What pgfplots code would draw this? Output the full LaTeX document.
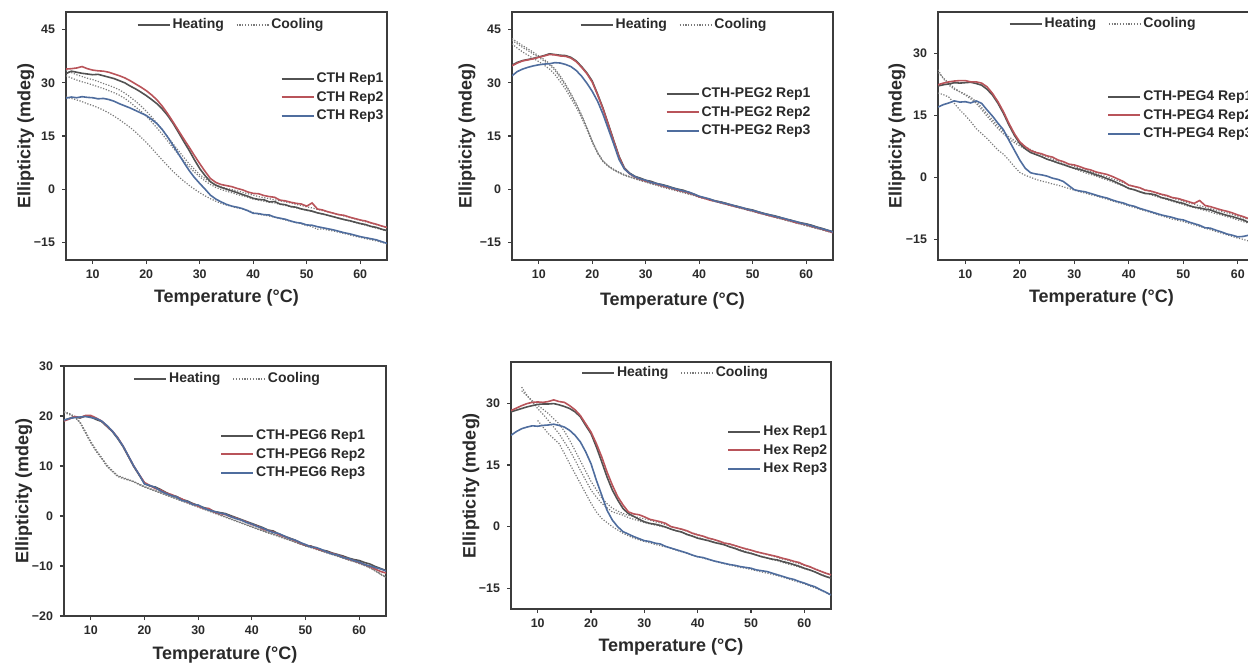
\documentclass[border=0pt]{standalone}
\usepackage{fontspec}
\setmainfont{Liberation Sans}
\usepackage{pgfplots}
\usepackage{pgfplotstable}
\pgfplotsset{compat=1.18}

\definecolor{rgray}{HTML}{525252}
\definecolor{rred}{HTML}{B9545A}
\definecolor{rblue}{HTML}{4F6D9E}
\definecolor{cdot}{HTML}{7A7A7A}
\definecolor{axgray}{HTML}{3C3C3C}
\definecolor{txt}{HTML}{2A2A2A}

% T, heating rep1-3 (h1-h3), cooling rep1-3 (c1-c3)
\pgfplotstableread{
T h1 h2 h3 c1 c2 c3
5 32.6 33.9 25.7 32.0 33.5 26.0
6 33.3 34.0 26.0 31.4 32.9 25.6
7 33.0 34.2 25.8 30.8 32.3 25.2
8 32.7 34.6 26.1 30.3 31.8 24.7
9 32.5 34.0 25.9 29.9 31.3 24.1
10 32.3 33.6 25.8 29.4 30.9 23.6
11 32.4 33.4 25.5 28.9 30.4 23.0
12 32.0 33.3 25.6 28.4 29.8 22.3
13 31.6 33.0 25.3 27.8 29.3 21.5
14 31.2 32.5 24.8 27.2 28.7 20.6
15 30.6 32.0 24.1 26.5 28.0 19.6
16 30.0 31.4 23.5 25.6 27.1 18.5
17 29.1 30.6 22.9 24.5 26.0 17.4
18 28.3 29.7 22.2 23.2 24.8 16.1
19 27.4 28.8 21.5 22.0 23.5 14.7
20 26.4 27.8 20.8 20.6 22.0 13.2
21 25.3 26.6 19.7 19.0 20.4 11.6
22 24.1 25.2 18.5 17.3 18.6 9.9
23 22.6 23.4 16.8 15.5 16.8 8.2
24 20.8 21.3 14.7 13.6 14.8 6.6
25 18.6 19.0 12.4 11.7 12.8 5.0
26 16.1 16.6 10.0 9.8 10.9 3.6
27 13.5 14.2 7.6 8.0 9.0 2.3
28 11.0 11.9 5.3 6.3 7.2 1.1
29 8.3 9.5 3.3 4.8 5.6 0.0
30 5.8 7.2 1.6 3.5 4.1 -1.0
31 3.8 5.0 0.0 2.3 3.0 -1.9
32 2.1 3.0 -1.7 1.3 2.0 -2.7
33 1.1 1.9 -2.8 0.5 1.2 -3.4
34 0.5 1.3 -3.6 -0.1 0.6 -4.0
35 0.0 1.0 -4.3 -0.6 0.2 -4.5
36 -0.5 0.7 -4.8 -1.0 -0.1 -4.9
37 -1.0 0.2 -5.1 -1.5 -0.5 -5.3
38 -1.5 -0.2 -5.5 -1.9 -0.9 -5.6
39 -2.0 -0.8 -6.1 -2.3 -1.3 -6.0
40 -2.6 -1.2 -6.8 -2.8 -1.7 -6.6
41 -2.9 -1.3 -6.9 -3.1 -2.1 -7.1
42 -3.0 -1.8 -7.2 -3.4 -2.4 -7.3
43 -3.6 -2.1 -7.3 -3.7 -2.7 -7.6
44 -3.5 -2.3 -7.9 -3.9 -3.0 -7.9
45 -4.2 -3.1 -8.2 -4.3 -3.3 -8.3
46 -4.4 -3.3 -8.5 -4.6 -3.6 -8.7
47 -4.9 -3.7 -9.0 -5.0 -3.9 -9.1
48 -5.1 -4.0 -9.4 -5.3 -4.3 -9.4
49 -5.6 -4.2 -9.6 -5.6 -4.6 -9.8
50 -5.9 -4.8 -10.1 -6.0 -5.0 -10.3
51 -6.2 -3.9 -10.2 -6.3 -5.3 -10.6
52 -6.7 -5.6 -10.6 -6.7 -5.7 -11.3
53 -7.0 -5.9 -10.9 -7.1 -6.1 -11.2
54 -7.4 -6.4 -11.2 -7.4 -6.4 -11.6
55 -7.8 -6.8 -11.5 -7.8 -6.8 -11.8
56 -8.2 -7.2 -11.9 -8.2 -7.2 -12.2
57 -8.6 -7.4 -12.3 -8.6 -7.6 -12.5
58 -8.9 -7.9 -12.6 -9.0 -8.0 -12.9
59 -9.3 -8.3 -13.0 -9.4 -8.4 -13.3
60 -9.7 -8.7 -13.4 -9.8 -8.8 -13.6
61 -10.0 -9.0 -13.7 -10.2 -9.2 -14.0
62 -10.5 -9.5 -14.0 -10.6 -9.6 -14.3
63 -10.8 -9.9 -14.3 -11.0 -10.0 -14.6
64 -11.3 -10.4 -14.8 -11.4 -10.4 -15.0
65 -11.7 -10.8 -15.3 -11.8 -10.8 -15.4
}\cth

\pgfplotstableread{
T h1 h2 h3 c1 c2 c3
5 35.0 34.8 32.0 42.5 41.0 42.0
6 35.8 35.6 33.2 41.5 39.8 41.0
7 36.3 36.2 33.9 40.5 38.7 40.0
8 36.6 36.5 34.4 39.6 37.8 39.1
9 36.9 36.8 34.8 38.6 36.9 38.1
10 37.3 37.2 35.1 37.6 36.0 37.2
11 37.7 37.6 35.3 36.6 35.0 36.2
12 38.2 38.0 35.4 35.5 33.9 35.1
13 38.0 37.9 35.7 34.0 32.4 33.6
14 37.8 37.6 35.6 32.0 30.4 31.5
15 37.7 37.5 35.2 29.7 28.2 29.2
16 37.2 37.0 34.6 27.0 25.7 26.6
17 36.2 36.0 33.5 24.2 23.1 23.8
18 34.6 34.4 31.9 21.0 20.2 20.7
19 32.8 32.6 29.9 17.4 16.8 17.2
20 30.5 30.2 27.6 13.5 13.2 13.6
21 26.8 26.6 24.8 10.2 10.1 10.4
22 22.9 22.7 21.2 7.8 7.9 8.0
23 18.4 18.2 17.0 6.4 6.5 6.6
24 13.8 13.6 12.8 5.4 5.5 5.6
25 9.3 9.1 8.4 4.6 4.7 4.8
26 6.0 5.8 5.7 3.9 4.0 4.1
27 4.5 4.3 4.4 3.4 3.5 3.5
28 3.6 3.4 3.5 2.9 3.0 3.0
29 3.1 2.8 2.9 2.4 2.5 2.6
30 2.5 2.3 2.5 2.0 2.1 2.1
31 2.2 1.9 1.9 1.5 1.6 1.7
32 1.6 1.5 1.6 1.1 1.2 1.3
33 1.3 1.0 1.2 0.6 0.8 0.8
34 0.9 0.6 0.8 0.2 0.4 0.4
35 0.4 0.2 0.3 -0.2 0.0 0.0
36 0.0 -0.3 -0.1 -0.6 -0.4 -0.4
37 -0.3 -0.6 -0.5 -1.0 -0.8 -0.8
38 -0.9 -1.0 -0.8 -1.4 -1.2 -1.3
39 -1.4 -1.5 -1.4 -1.8 -1.6 -1.7
40 -2.1 -2.2 -2.0 -2.3 -2.1 -2.2
41 -2.5 -2.6 -2.4 -2.7 -2.5 -2.6
42 -2.9 -3.1 -2.8 -3.1 -3.0 -3.0
43 -3.3 -3.4 -3.4 -3.5 -3.4 -3.5
44 -3.6 -3.8 -3.7 -3.9 -3.8 -3.9
45 -4.0 -4.2 -4.1 -4.3 -4.2 -4.3
46 -4.5 -4.6 -4.4 -4.7 -4.6 -4.7
47 -4.8 -5.0 -4.9 -5.1 -5.0 -5.1
48 -5.3 -5.3 -5.2 -5.5 -5.4 -5.5
49 -5.6 -5.8 -5.7 -5.9 -5.8 -5.9
50 -5.9 -6.1 -6.0 -6.3 -6.2 -6.3
51 -6.4 -6.6 -6.4 -6.7 -6.6 -6.7
52 -6.8 -7.0 -6.9 -7.1 -7.0 -7.1
53 -7.2 -7.4 -7.2 -7.5 -7.4 -7.5
54 -7.5 -7.8 -7.6 -7.9 -7.8 -7.9
55 -7.9 -8.1 -8.0 -8.3 -8.2 -8.3
56 -8.4 -8.5 -8.3 -8.7 -8.6 -8.7
57 -8.7 -8.9 -8.8 -9.1 -9.0 -9.1
58 -9.2 -9.4 -9.1 -9.5 -9.4 -9.5
59 -9.5 -9.7 -9.6 -9.9 -9.8 -9.9
60 -9.8 -10.0 -9.9 -10.3 -10.2 -10.3
61 -10.2 -10.5 -10.3 -10.7 -10.6 -10.7
62 -10.7 -10.9 -10.8 -11.1 -11.0 -11.1
63 -11.1 -11.3 -11.2 -11.5 -11.4 -11.5
64 -11.6 -11.8 -11.6 -11.9 -11.9 -11.9
65 -12.0 -12.3 -12.1 -12.3 -12.4 -12.3
}\pegtwo

\pgfplotstableread{
T h1 h2 h3 c1 c2 c3
5 22.1 22.4 17.0 25.4 26.0 20.4
6 22.4 22.8 17.6 24.0 23.8 20.0
7 22.6 23.1 18.0 22.8 22.3 19.4
8 22.9 23.3 18.5 21.6 21.3 17.9
9 22.8 23.4 18.2 20.7 20.7 16.3
10 22.9 23.4 18.3 19.9 20.1 15.0
11 23.0 23.1 18.0 19.0 19.4 13.5
12 22.7 23.1 18.5 17.9 18.3 11.8
13 22.3 22.8 17.9 16.4 16.9 10.6
14 21.3 21.9 16.3 14.8 15.4 9.4
15 19.9 20.3 14.8 13.3 13.9 8.0
16 17.9 18.3 13.1 11.8 12.4 6.6
17 15.5 15.9 11.5 10.5 11.1 5.6
18 12.7 13.1 9.0 9.3 9.8 4.2
19 10.2 10.6 6.6 8.4 8.9 2.6
20 8.2 8.6 4.2 7.6 8.1 1.2
21 6.9 7.4 2.2 6.9 7.4 0.5
22 6.0 6.5 1.1 6.2 6.7 0.0
23 5.5 6.0 0.8 5.6 6.1 -0.5
24 5.0 5.7 0.6 5.0 5.5 -0.9
25 4.4 5.2 0.3 4.4 5.0 -1.2
26 4.0 4.9 -0.2 3.9 4.5 -1.6
27 3.5 4.2 -0.5 3.5 4.0 -1.9
28 3.1 3.8 -1.0 3.0 3.6 -2.3
29 2.6 3.2 -2.0 2.6 3.1 -2.7
30 2.2 3.0 -3.0 2.1 2.7 -3.1
31 1.9 2.6 -3.3 1.6 2.2 -3.5
32 1.5 2.1 -3.5 1.1 1.8 -3.8
33 1.1 1.8 -3.9 0.7 1.4 -4.2
34 0.6 1.3 -4.3 0.3 1.0 -4.5
35 0.2 1.0 -4.7 -0.2 0.5 -4.9
36 -0.3 0.7 -5.0 -0.6 0.1 -5.3
37 -0.8 0.2 -5.5 -1.1 -0.4 -5.7
38 -1.4 -0.4 -5.9 -1.6 -0.8 -6.1
39 -2.0 -1.0 -6.2 -2.1 -1.3 -6.5
40 -2.7 -1.9 -6.7 -2.6 -1.8 -6.9
41 -3.0 -2.2 -7.0 -3.0 -2.2 -7.3
42 -3.5 -2.5 -7.5 -3.4 -2.6 -7.7
43 -3.9 -3.1 -7.9 -3.8 -3.0 -8.1
44 -4.0 -3.3 -8.3 -4.2 -3.4 -8.5
45 -4.3 -3.7 -8.7 -4.6 -3.8 -8.9
46 -4.9 -4.1 -9.1 -5.0 -4.2 -9.3
47 -5.2 -4.4 -9.4 -5.4 -4.6 -9.7
48 -5.6 -4.9 -9.7 -5.8 -5.0 -10.1
49 -6.0 -5.1 -10.1 -6.2 -5.4 -10.4
50 -6.3 -5.5 -10.3 -6.6 -5.8 -10.7
51 -6.8 -5.9 -10.8 -7.0 -6.2 -11.1
52 -7.2 -6.3 -11.2 -7.3 -6.5 -11.5
53 -7.4 -5.6 -11.6 -7.7 -6.9 -11.9
54 -7.7 -6.8 -12.2 -8.0 -7.2 -12.3
55 -7.9 -7.1 -12.3 -8.4 -7.6 -12.7
56 -8.4 -7.5 -12.8 -8.8 -7.9 -13.1
57 -8.8 -7.9 -13.2 -9.1 -8.3 -13.5
58 -9.2 -8.2 -13.7 -9.5 -8.6 -13.9
59 -9.5 -8.6 -14.0 -9.9 -9.0 -14.3
60 -9.9 -9.1 -14.4 -10.3 -9.4 -14.7
61 -10.3 -9.5 -14.3 -10.7 -9.8 -15.0
62 -10.9 -10.0 -14.0 -11.1 -10.2 -15.4
63 -11.4 -10.7 -14.9 -11.5 -10.6 -15.8
64 -12.0 -11.1 -15.4 -11.9 -11.0 -16.2
65 -12.7 -11.5 -16.0 -12.3 -11.4 -16.5
}\pegfour

\pgfplotstableread{
T h1 h2 h3 c1 c2 c3
5 19.1 19.0 19.2 20.9 20.7 20.8
6 19.5 19.4 19.5 20.5 20.3 20.4
7 19.8 19.9 19.7 19.9 19.7 19.8
8 19.6 19.7 19.8 18.6 18.8 18.7
9 20.0 20.1 19.9 16.6 16.9 16.7
10 19.8 20.1 19.7 14.6 14.9 14.7
11 19.3 19.6 19.5 12.9 13.2 13.0
12 18.9 19.0 19.0 11.5 11.7 11.6
13 17.9 18.0 18.1 9.9 10.2 10.0
14 16.9 17.0 17.0 8.9 9.1 9.0
15 15.5 15.7 15.6 7.9 8.1 8.0
16 13.9 14.0 14.0 7.5 7.7 7.6
17 11.9 12.0 12.0 7.2 7.3 7.2
18 9.9 10.0 10.0 6.8 6.9 6.9
19 8.2 8.3 8.3 6.3 6.4 6.3
20 6.5 6.7 6.4 5.8 5.9 5.8
21 6.0 6.1 6.1 5.4 5.5 5.4
22 5.8 5.5 5.7 5.0 5.1 5.0
23 5.3 5.2 5.0 4.6 4.7 4.6
24 4.7 4.6 4.5 4.2 4.3 4.2
25 4.2 4.3 4.1 3.8 3.9 3.8
26 3.9 3.8 3.8 3.4 3.5 3.4
27 3.3 3.4 3.1 3.0 3.1 3.0
28 3.0 2.8 2.9 2.6 2.7 2.6
29 2.5 2.4 2.3 2.2 2.3 2.2
30 2.1 2.0 2.2 1.8 1.9 1.8
31 1.7 1.5 1.6 1.4 1.5 1.4
32 1.4 1.5 1.2 1.0 1.1 1.0
33 0.9 0.8 0.9 0.6 0.7 0.6
34 0.7 0.5 0.6 0.2 0.3 0.2
35 0.5 0.3 0.4 -0.2 -0.1 -0.2
36 0.1 -0.1 -0.1 -0.6 -0.5 -0.6
37 -0.3 -0.4 -0.5 -1.0 -0.9 -1.0
38 -0.7 -0.8 -0.8 -1.4 -1.3 -1.4
39 -1.1 -1.2 -1.3 -1.8 -1.7 -1.8
40 -1.5 -1.7 -1.6 -2.2 -2.1 -2.2
41 -1.9 -2.0 -2.1 -2.6 -2.5 -2.6
42 -2.3 -2.6 -2.4 -2.9 -2.9 -3.0
43 -2.8 -2.9 -2.9 -3.3 -3.3 -3.4
44 -3.0 -3.2 -3.3 -3.7 -3.6 -3.7
45 -3.6 -3.7 -3.5 -4.0 -4.0 -4.1
46 -4.0 -4.1 -4.0 -4.4 -4.4 -4.5
47 -4.4 -4.5 -4.5 -4.8 -4.8 -4.8
48 -4.8 -4.9 -4.8 -5.2 -5.2 -5.2
49 -5.3 -5.4 -5.3 -5.6 -5.6 -5.6
50 -5.9 -5.8 -5.7 -5.9 -5.9 -6.0
51 -6.0 -6.1 -6.2 -6.3 -6.3 -6.3
52 -6.4 -6.5 -6.3 -6.6 -6.6 -6.7
53 -6.8 -6.8 -6.7 -7.0 -7.0 -7.0
54 -7.0 -7.2 -7.2 -7.3 -7.3 -7.4
55 -7.4 -7.5 -7.6 -7.7 -7.7 -7.7
56 -7.7 -7.8 -7.8 -8.0 -8.0 -8.1
57 -8.0 -8.2 -8.3 -8.4 -8.4 -8.4
58 -8.4 -8.6 -8.5 -8.7 -8.8 -8.8
59 -8.7 -8.9 -8.9 -9.1 -9.1 -9.1
60 -8.9 -9.3 -9.2 -9.4 -9.5 -9.5
61 -9.3 -9.7 -9.7 -9.8 -9.9 -9.9
62 -9.6 -10.1 -10.0 -10.3 -10.4 -10.3
63 -10.1 -10.6 -10.3 -10.9 -11.0 -10.9
64 -10.5 -11.1 -10.6 -11.6 -11.7 -11.6
65 -10.9 -11.4 -11.0 -12.2 -12.3 -12.2
}\pegsix

\pgfplotstableread{
T h1 h2 h3 c1 c2 c3
5 27.9 28.2 22.2 nan nan nan
6 28.3 28.8 23.1 nan nan nan
7 28.7 29.4 23.8 33.9 33.0 nan
8 29.1 29.9 24.2 31.9 31.8 nan
9 29.4 30.2 24.5 30.3 30.6 nan
10 29.7 30.3 24.4 28.7 29.5 25.8
11 29.8 30.2 24.6 27.3 28.5 24.2
12 29.8 30.4 24.7 25.8 27.5 22.6
13 29.9 30.8 24.9 24.2 26.2 21.4
14 29.6 30.4 24.6 22.6 25.0 20.2
15 29.2 30.2 24.2 20.6 23.2 17.8
16 28.7 29.4 23.4 18.6 21.0 15.3
17 27.9 28.4 22.2 16.2 18.5 12.9
18 26.7 27.0 20.6 13.7 16.0 10.5
19 24.6 25.0 18.2 11.3 13.5 8.1
20 22.6 23.0 15.3 8.9 11.0 5.7
21 19.4 20.2 11.3 7.2 9.0 3.6
22 15.8 17.0 7.7 5.7 7.0 2.0
23 12.1 13.3 4.0 4.6 5.6 1.0
24 8.9 10.1 1.6 3.6 4.5 0.0
25 6.5 7.3 0.0 3.2 3.8 -0.8
26 4.4 5.3 -1.2 2.8 3.2 -1.6
27 3.2 3.6 -1.8 2.2 2.8 -2.2
28 2.5 3.1 -2.4 1.8 2.5 -2.8
29 1.8 2.9 -2.9 1.4 2.2 -3.2
30 1.2 2.4 -3.4 1.0 1.9 -3.6
31 0.8 1.8 -3.6 0.7 1.6 -3.9
32 0.6 1.5 -4.0 0.4 1.2 -4.3
33 0.3 1.2 -4.2 0.1 0.9 -4.6
34 -0.1 0.8 -4.8 -0.2 0.5 -4.9
35 -0.6 0.0 -5.2 -0.6 0.1 -5.3
36 -1.0 -0.3 -5.6 -1.0 -0.3 -5.7
37 -1.3 -0.6 -6.0 -1.4 -0.7 -6.1
38 -1.9 -1.0 -6.4 -1.8 -1.1 -6.5
39 -2.3 -1.6 -6.9 -2.2 -1.5 -6.9
40 -2.8 -2.0 -7.3 -2.6 -1.9 -7.3
41 -3.1 -2.3 -7.5 -3.0 -2.3 -7.6
42 -3.4 -2.8 -7.9 -3.3 -2.7 -8.0
43 -3.8 -3.1 -8.3 -3.7 -3.1 -8.3
44 -4.1 -3.5 -8.6 -4.0 -3.5 -8.7
45 -4.4 -4.0 -8.9 -4.4 -3.9 -9.0
46 -4.9 -4.2 -9.2 -4.8 -4.3 -9.3
47 -5.3 -4.6 -9.4 -5.2 -4.6 -9.6
48 -5.8 -5.0 -9.7 -5.6 -5.0 -9.9
49 -6.2 -5.4 -9.9 -6.0 -5.3 -10.1
50 -6.5 -5.7 -10.1 -6.4 -5.7 -10.4
51 -6.9 -6.1 -10.5 -6.8 -6.1 -10.7
52 -7.3 -6.4 -10.7 -7.2 -6.4 -11.0
53 -7.6 -6.7 -10.9 -7.6 -6.8 -11.3
54 -7.9 -7.0 -11.3 -8.0 -7.1 -11.6
55 -8.1 -7.3 -11.7 -8.3 -7.5 -11.9
56 -8.5 -7.7 -12.1 -8.7 -7.9 -12.3
57 -8.8 -8.0 -12.5 -9.1 -8.2 -12.7
58 -9.2 -8.4 -12.8 -9.4 -8.6 -13.1
59 -9.6 -8.7 -13.3 -9.8 -9.0 -13.5
60 -10.1 -9.3 -13.7 -10.2 -9.4 -13.9
61 -10.5 -9.7 -14.2 -10.6 -9.8 -14.4
62 -11.0 -10.3 -14.6 -11.0 -10.2 -14.9
63 -11.6 -10.8 -15.3 -11.5 -10.7 -15.4
64 -12.1 -11.3 -15.9 -12.0 -11.2 -16.0
65 -12.5 -11.7 -16.6 -12.5 -11.7 -16.6
}\hex

\newcommand{\labfont}{\bfseries\fontsize{9}{10}\selectfont}

\pgfplotsset{
  cdpanel/.style={
    scale only axis,
    xmin=5, xmax=65,
    xtick={10,20,...,60},
    axis line style={axgray, line width=1pt},
    tick style={axgray, line width=0.6pt},
    tick align=outside,
    major tick length=2pt,
    xtick pos=left, ytick pos=left,
    /pgf/number format/assume math mode=true,
    tick label style={font=\bfseries\fontsize{6.2}{7}\selectfont, text=txt},
    xticklabel style={yshift=0.5pt},
    xlabel={Temperature (°C)},
    ylabel={Ellipticity (mdeg)},
    every axis x label/.style={at={(axis description cs:0.5,-0.152)}, anchor=center,
      font=\labfont, text=txt},
    every axis y label/.style={at={(axis description cs:-0.125,0.5)}, anchor=center,
      rotate=90, font=\labfont, text=txt},
    legend style={draw=none, fill=none, anchor=north west, inner sep=0pt,
      font=\bfseries\fontsize{7}{8}\selectfont, text=txt, row sep=0.6pt,
      nodes={inner sep=1pt, text height=5.2pt, text depth=1.4pt}},
    legend cell align=left,
    legend image code/.code={\draw[##1, line width=1pt] (0pt,0pt) -- (16pt,0pt);},
  },
  hclegend/.style={
    scale only axis, hide axis,
    xmin=0, xmax=1, ymin=0, ymax=1,
    legend columns=2,
    legend style={draw=none, fill=none, anchor=center, inner sep=0pt,
      font=\bfseries\fontsize{7}{8}\selectfont, text=txt,
      nodes={inner sep=1pt},
      /tikz/every even column/.append style={column sep=5pt}},
    legend image code/.code={\draw[##1] (0pt,0pt) -- (16pt,0pt);},
  },
  heat/.style={line width=0.8pt},
  cool/.style={cdot, line width=0.6pt, dash pattern=on 0.6pt off 0.8pt},
}

\newcommand{\sixcurves}[4]{%
  \addplot[cool, forget plot] table[x=T, y=c1] {#1};
  \addplot[cool, forget plot] table[x=T, y=c2] {#1};
  \addplot[cool, forget plot] table[x=T, y=c3] {#1};
  \addplot[heat, rgray] table[x=T, y=h1] {#1};
  \addlegendentry{#2}
  \addplot[heat, rred] table[x=T, y=h2] {#1};
  \addlegendentry{#3}
  \addplot[heat, rblue] table[x=T, y=h3] {#1};
  \addlegendentry{#4}
}

% Heating / Cooling key: x, y, width, height, key position
\newcommand{\hcleg}[6]{%
  \begin{axis}[hclegend, at={(#1,#2)}, anchor=south west, width=#3, height=#4,
    legend style={at={(#5,#6)}}]
    \addlegendimage{rgray, line width=1pt}
    \addlegendentry{Heating}
    \addlegendimage{cool, line width=0.7pt}
    \addlegendentry{Cooling}
  \end{axis}
}

\begin{document}
\begin{tikzpicture}

% CTH
\begin{axis}[cdpanel, at={(33pt,203pt)}, anchor=south west, width=160.5pt, height=124pt,
  ymin=-20, ymax=50, ytick={-15,0,15,30,45}, yticklabels={−15,0,15,30,45},
  legend style={at={(0.667,0.766)}}]
  \sixcurves{\cth}{CTH Rep1}{CTH Rep2}{CTH Rep3}
\end{axis}
\hcleg{33pt}{203pt}{160.5pt}{124pt}{0.514}{0.948}

% CTH-PEG2
\begin{axis}[cdpanel, at={(256pt,203pt)}, anchor=south west, width=160.5pt, height=124pt,
  ymin=-20, ymax=50, ytick={-15,0,15,30,45}, yticklabels={−15,0,15,30,45},
  every axis x label/.append style={at={(axis description cs:0.5,-0.165)}},
  every axis y label/.append style={at={(axis description cs:-0.14,0.5)}},
  legend style={at={(0.477,0.706)}}]
  \sixcurves{\pegtwo}{CTH-PEG2 Rep1}{CTH-PEG2 Rep2}{CTH-PEG2 Rep3}
\end{axis}
\hcleg{256pt}{203pt}{160.5pt}{124pt}{0.505}{0.948}

% CTH-PEG4
\begin{axis}[cdpanel, at={(469pt,203pt)}, anchor=south west, width=163.5pt, height=124pt,
  ymin=-20, ymax=40, ytick={-15,0,15,30}, yticklabels={−15,0,15,30},
  legend style={at={(0.517,0.694)}}]
  \sixcurves{\pegfour}{CTH-PEG4 Rep1}{CTH-PEG4 Rep2}{CTH-PEG4 Rep3}
\end{axis}
\hcleg{469pt}{203pt}{163.5pt}{124pt}{0.505}{0.952}

% CTH-PEG6
\begin{axis}[cdpanel, at={(32pt,25pt)}, anchor=south west, width=161pt, height=125pt,
  ymin=-20, ymax=30, ytick={-20,-10,0,10,20,30}, yticklabels={−20,−10,0,10,20,30},
  every axis x label/.append style={at={(axis description cs:0.5,-0.156)}},
  legend style={at={(0.484,0.756)}}]
  \sixcurves{\pegsix}{CTH-PEG6 Rep1}{CTH-PEG6 Rep2}{CTH-PEG6 Rep3}
\end{axis}
\hcleg{32pt}{25pt}{161pt}{125pt}{0.508}{0.948}

% Hex
\begin{axis}[cdpanel, at={(255.5pt,28.5pt)}, anchor=south west, width=160pt, height=123.5pt,
  ymin=-20, ymax=40, ytick={-15,0,15,30}, yticklabels={−15,0,15,30},
  legend style={at={(0.675,0.753)}}]
  \sixcurves{\hex}{Hex Rep1}{Hex Rep2}{Hex Rep3}
\end{axis}
\hcleg{255.5pt}{28.5pt}{160pt}{123.5pt}{0.514}{0.955}

\pgfresetboundingbox
\path[use as bounding box] (0pt,0pt) rectangle (624pt,333pt);
\end{tikzpicture}
\end{document}
